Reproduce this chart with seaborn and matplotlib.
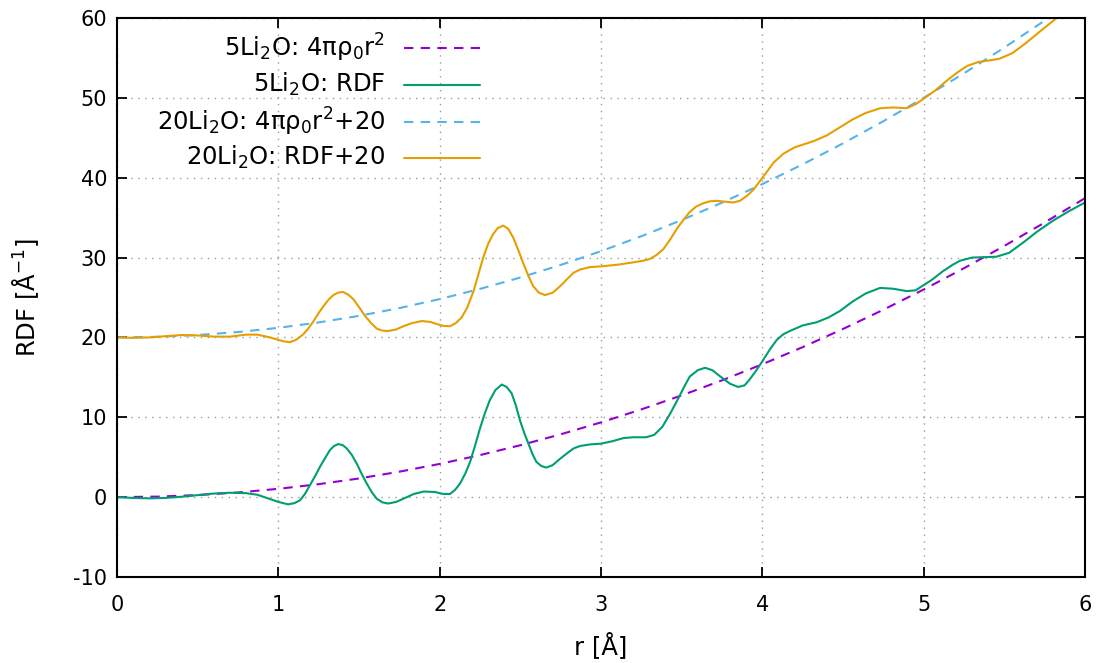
import matplotlib
matplotlib.use("Agg")
import matplotlib.pyplot as plt
import seaborn as sns

# ---------------- data ----------------
r_ideal = [0.0, 0.25, 0.5, 0.75, 1.0, 1.25, 1.5, 1.75, 2.0, 2.25, 2.5, 2.75, 3.0,
           3.25, 3.5, 3.75, 4.0, 4.25, 4.5, 4.75, 5.0, 5.25, 5.5, 5.75, 6.0]
ideal_5 = [0.0, 0.065, 0.26, 0.585, 1.04, 1.625, 2.34, 3.185, 4.16, 5.265, 6.5, 7.865,
           9.36, 10.985, 12.74, 14.625, 16.64, 18.785, 21.06, 23.465, 26.0, 28.665,
           31.46, 34.385, 37.44]
ideal_20 = [20.0, 20.075, 20.3, 20.675, 21.2, 21.875, 22.7, 23.675, 24.8, 26.075, 27.5,
            29.075, 30.8, 32.675, 34.7, 36.875, 39.2, 41.675, 44.3, 47.075, 50.0,
            53.075, 56.3, 59.675, 63.2]

r_rdf5 = [0.0, 0.1, 0.2, 0.3, 0.4, 0.5, 0.6, 0.7, 0.8, 0.87, 0.95, 1.0, 1.06, 1.1,
          1.134, 1.165, 1.196, 1.227, 1.258, 1.29, 1.32, 1.345, 1.372, 1.4, 1.424,
          1.455, 1.486, 1.517, 1.548, 1.58, 1.61, 1.645, 1.68, 1.73, 1.775, 1.84, 1.9,
          1.97, 2.02, 2.064, 2.095, 2.126, 2.16, 2.19, 2.22, 2.25, 2.28, 2.31, 2.345,
          2.385, 2.415, 2.446, 2.472, 2.498, 2.525, 2.55, 2.575, 2.6, 2.63, 2.66, 2.7,
          2.746, 2.79, 2.83, 2.87, 2.93, 3.0, 3.07, 3.14, 3.2, 3.28, 3.33, 3.38, 3.43,
          3.48, 3.515, 3.55, 3.6, 3.645, 3.69, 3.74, 3.8, 3.85, 3.89, 3.92, 3.96,
          4.006, 4.05, 4.09, 4.13, 4.17, 4.25, 4.337, 4.41, 4.48, 4.56, 4.64, 4.73,
          4.81, 4.895, 4.95, 4.988, 5.05, 5.12, 5.18, 5.225, 5.3, 5.37, 5.45, 5.53,
          5.618, 5.7, 5.8, 5.9, 6.0]
rdf5 = [0.0, -0.1, -0.15, -0.1, 0.05, 0.25, 0.45, 0.55, 0.5, 0.3, -0.25, -0.6, -0.9,
        -0.75, -0.4, 0.4, 1.5, 2.6, 3.8, 4.9, 5.9, 6.4, 6.65, 6.5, 6.1, 5.3, 4.2, 2.9,
        1.7, 0.6, -0.2, -0.65, -0.8, -0.6, -0.2, 0.4, 0.7, 0.65, 0.4, 0.4, 0.9, 1.7,
        3.0, 4.5, 6.5, 8.6, 10.5, 12.1, 13.4, 14.1, 13.8, 13.0, 11.5, 9.6, 8.0, 6.7,
        5.4, 4.4, 3.9, 3.7, 4.0, 4.8, 5.5, 6.1, 6.4, 6.6, 6.7, 7.0, 7.4, 7.5, 7.5,
        7.8, 8.8, 10.5, 12.4, 13.8, 15.1, 15.9, 16.2, 15.9, 15.1, 14.2, 13.8, 14.0,
        14.7, 15.8, 17.2, 18.6, 19.7, 20.4, 20.8, 21.5, 21.9, 22.5, 23.3, 24.5, 25.5,
        26.2, 26.1, 25.8, 25.9, 26.4, 27.2, 28.3, 29.1, 29.6, 30.0, 30.05, 30.1,
        30.6, 31.9, 33.2, 34.6, 35.8, 36.9]

r_rdf20 = [0.0, 0.1, 0.2, 0.3, 0.4, 0.5, 0.6, 0.7, 0.8, 0.87, 0.948, 1.0, 1.035, 1.072,
           1.11, 1.155, 1.185, 1.217, 1.248, 1.279, 1.31, 1.341, 1.37, 1.399, 1.43,
           1.465, 1.5, 1.537, 1.575, 1.61, 1.645, 1.68, 1.73, 1.775, 1.83, 1.889, 1.94,
           1.98, 2.02, 2.064, 2.1, 2.136, 2.17, 2.21, 2.24, 2.27, 2.3, 2.33, 2.36,
           2.395, 2.425, 2.456, 2.49, 2.52, 2.55, 2.58, 2.615, 2.653, 2.7, 2.746, 2.79,
           2.83, 2.87, 2.93, 3.0, 3.1, 3.2, 3.26, 3.3, 3.343, 3.386, 3.43, 3.47, 3.51,
           3.55, 3.59, 3.634, 3.675, 3.717, 3.77, 3.82, 3.86, 3.903, 3.945, 3.986,
           4.03, 4.07, 4.13, 4.2, 4.32, 4.4, 4.48, 4.56, 4.64, 4.73, 4.81, 4.895, 4.95,
           5.0, 5.07, 5.14, 5.21, 5.27, 5.34, 5.41, 5.47, 5.55, 5.63, 5.72, 5.825, 5.9,
           6.0]
rdf20 = [20.0, 19.95, 20.0, 20.15, 20.3, 20.25, 20.1, 20.1, 20.35, 20.35, 20.0, 19.7,
         19.5, 19.4, 19.7, 20.4, 21.1, 22.0, 23.0, 23.9, 24.7, 25.3, 25.6, 25.7, 25.4,
         24.8, 23.8, 22.7, 21.8, 21.1, 20.85, 20.8, 21.0, 21.4, 21.8, 22.05, 21.95,
         21.7, 21.45, 21.4, 21.8, 22.5, 23.7, 25.8, 27.9, 30.0, 31.7, 32.9, 33.7, 34.0,
         33.6, 32.5, 30.8, 29.2, 27.7, 26.4, 25.6, 25.3, 25.6, 26.4, 27.3, 28.1, 28.5,
         28.8, 28.9, 29.1, 29.4, 29.6, 29.8, 30.3, 31.05, 32.3, 33.6, 34.7, 35.7, 36.4,
         36.8, 37.05, 37.1, 37.0, 36.9, 37.1, 37.7, 38.5, 39.6, 40.8, 41.9, 43.0, 43.8,
         44.6, 45.3, 46.3, 47.3, 48.1, 48.7, 48.8, 48.7, 49.2, 49.9, 50.9, 52.1, 53.2,
         54.0, 54.5, 54.7, 54.9, 55.6, 56.8, 58.3, 60.0, 61.2, 62.8]

labels = [r"5Li$_2$O: 4πρ$_0$r$^2$", r"5Li$_2$O: RDF",
          r"20Li$_2$O: 4πρ$_0$r$^2$+20", r"20Li$_2$O: RDF+20"]
x_ticks = [0, 1, 2, 3, 4, 5, 6]
y_ticks = [-10, 0, 10, 20, 30, 40, 50, 60]

# ---------------- style ----------------
sns.set_style("white")
plt.rcParams["font.family"] = ["DejaVu Sans"]
plt.rcParams["axes.unicode_minus"] = False
plt.rcParams["mathtext.fontset"] = "dejavusans"
plt.rcParams["text.color"] = "black"
plt.rcParams["axes.labelcolor"] = "black"
plt.rcParams["xtick.color"] = "black"
plt.rcParams["ytick.color"] = "black"

colors = ["#9400d3", "#009e73", "#56b4e9", "#e69f00"]
dash = (0, (4.5, 3.5))
FS = 15
FL = 17.5

fig = plt.figure(figsize=(10.99, 6.63), dpi=100)
ax = fig.add_axes([117 / 1099, 86 / 663, 968 / 1099, 559 / 663])

series = [(r_ideal, ideal_5, dash), (r_rdf5, rdf5, "-"),
          (r_ideal, ideal_20, dash), (r_rdf20, rdf20, "-")]
for (xs, ys, ls), c in zip(series, colors):
    sns.lineplot(x=xs, y=ys, ax=ax, color=c, linestyle=ls, linewidth=1.5,
                 estimator=None, sort=False)

ax.set_xlim(0, 6)
ax.set_ylim(-10, 60)
ax.set_xticks(x_ticks)
ax.set_yticks(y_ticks)
ax.set_xticklabels([str(t) for t in x_ticks])
ax.set_yticklabels([str(t) for t in y_ticks])
ax.tick_params(direction="in", length=7, width=1.3, labelsize=FS,
               top=True, right=True, bottom=True, left=True)
ax.tick_params(axis="x", pad=13)
ax.tick_params(axis="y", pad=7)
ax.grid(True, color="#999999", linestyle=(0, (1, 4)), linewidth=1.0)
for s in ax.spines.values():
    s.set_linewidth(1.5)
    s.set_color("black")

ax.set_xlabel("r [Å]", fontsize=FL)
ax.set_ylabel(r"RDF [Å$^{-1}$]", fontsize=FL)
ax.xaxis.set_label_coords(0.5, -0.098)
ax.yaxis.set_label_coords(-0.079, 0.5)

# gnuplot-style key
rows = [0.9458, 0.881, 0.8145, 0.750]
for lab, c, y, ls in zip(labels, colors, rows, [dash, "-", dash, "-"]):
    ax.text(0.277, y, lab, transform=ax.transAxes, ha="right", va="center",
            fontsize=FL)
    ax.plot([0.2965, 0.375], [y, y], transform=ax.transAxes, color=c,
            linestyle=ls, linewidth=1.5)

fig.savefig("out.png", dpi=100)
